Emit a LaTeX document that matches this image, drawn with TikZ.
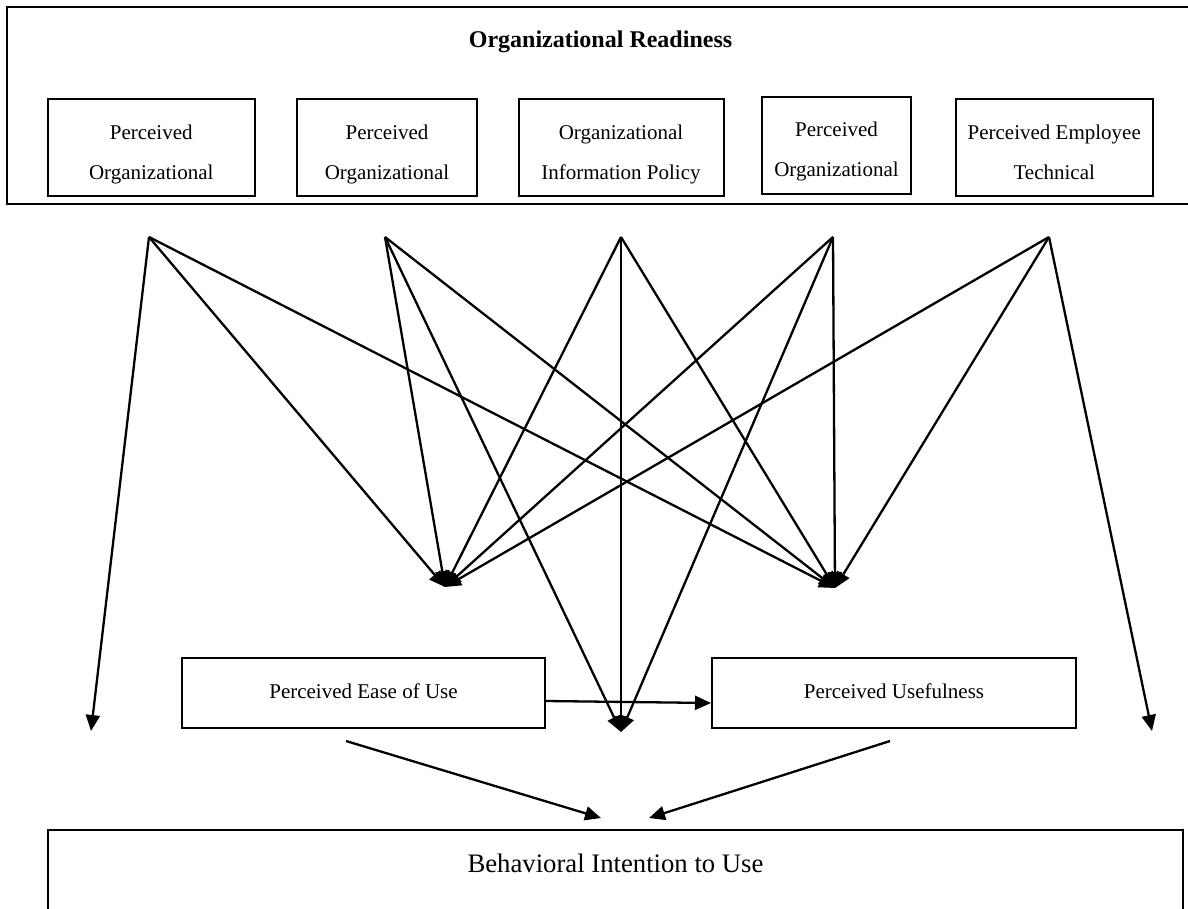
\documentclass[tikz,border=0pt]{standalone}
\usepackage{fontspec}
\setmainfont{Liberation Serif}
\usetikzlibrary{arrows.meta,calc}
\tikzset{
  boxline/.style={draw=black, line width=2pt},
  smallbox/.style={boxline, rectangle, inner sep=0pt},
  lbl/.style={inner sep=0pt, anchor=base, font=\fontsize{21}{25}\selectfont},
  conn/.style={line width=2.3pt, -{Triangle[length=16pt,width=14pt]}},
}
\begin{document}
\begin{tikzpicture}[x=1pt,y=-1pt]
\useasboundingbox (0,0) rectangle (1188,908);
% outer container (right side runs off the page)
\draw[boxline, line width=2.4pt] (1188,7) -- (7,7) -- (7,204) -- (1188,204);
\node[inner sep=0pt, anchor=base, font=\bfseries\fontsize{24}{28}\selectfont] (title) at (600.5,47) {Organizational Readiness};

% five factor boxes
\node[smallbox, minimum width=207.5pt, minimum height=97pt] (b1) at (151.25,147.5) {};
\node[lbl] (b1a) at (151.25,139) {Perceived};
\node[lbl] (b1b) at (151.25,179) {Organizational};

\node[smallbox, minimum width=180pt, minimum height=97pt] (b2) at (387,147.5) {};
\node[lbl] (b2a) at (387,139) {Perceived};
\node[lbl] (b2b) at (387,179) {Organizational};

\node[smallbox, minimum width=205pt, minimum height=97pt] (b3) at (621,147.5) {};
\node[lbl] (b3a) at (621,139) {Organizational};
\node[lbl] (b3b) at (621,179) {Information Policy};

\node[smallbox, minimum width=149pt, minimum height=97pt] (b4) at (836.5,145.5) {};
\node[lbl] (b4a) at (836.5,136) {Perceived};
\node[lbl] (b4b) at (836.5,176) {Organizational};

\node[smallbox, minimum width=196.5pt, minimum height=97pt] (b5) at (1054.25,147.5) {};
\node[lbl] (b5a) at (1054.25,139) {Perceived Employee};
\node[lbl] (b5b) at (1054.25,179) {Technical};

% middle boxes
\node[smallbox, minimum width=363pt, minimum height=70pt] (peou) at (363.5,693) {};
\node[lbl] (peout) at (363.5,698) {Perceived Ease of Use};
\node[smallbox, minimum width=364pt, minimum height=70pt] (pu) at (894,693) {};
\node[lbl] (put) at (894,698) {Perceived Usefulness};

% bottom box (bottom edge runs off the page)
\draw[boxline, line width=2.2pt] (48,912) -- (48,830) -- (1183,830) -- (1183,912);
\node[inner sep=0pt, anchor=base, font=\fontsize{26.7}{30}\selectfont] (bi) at (615.5,872) {Behavioral Intention to Use};

% free ends of the connectors
\coordinate (s1) at (149,237);
\coordinate (s2) at (385,237);
\coordinate (s3) at (621,237);
\coordinate (s4) at (833,237);
\coordinate (s5) at (1049,237);
\coordinate (t1) at (445,587);
\coordinate (t2) at (835,588);
\coordinate (t3) at (621,732);
\coordinate (tl) at (91,731);
\coordinate (tr) at (1152,731);
\coordinate (a1) at (346,741);
\coordinate (e1) at (601,818);
\coordinate (a2) at (890,741);
\coordinate (e2) at (649,818);

% connectors
\draw[conn] (s1) -- (tl);
\draw[conn] (s1) -- (t1);
\draw[conn] (s1) -- (t2);
\draw[conn] (s2) -- (t1);
\draw[conn] (s2) -- (t3);
\draw[conn] (s2) -- (t2);
\draw[conn] (s3) -- (t1);
\draw[conn] (s3) -- (t3);
\draw[conn] (s3) -- (t2);
\draw[conn] (s4) -- (t1);
\draw[conn] (s4) -- (t3);
\draw[conn] (s4) -- (t2);
\draw[conn] (s5) -- (t1);
\draw[conn] (s5) -- (t2);
\draw[conn] (s5) -- (tr);

\draw[conn] ($(peou.east)+(0,8)$) -- ($(pu.west)+(0,10)$);
\draw[conn] (a1) -- (e1);
\draw[conn] (a2) -- (e2);
\end{tikzpicture}
\end{document}
